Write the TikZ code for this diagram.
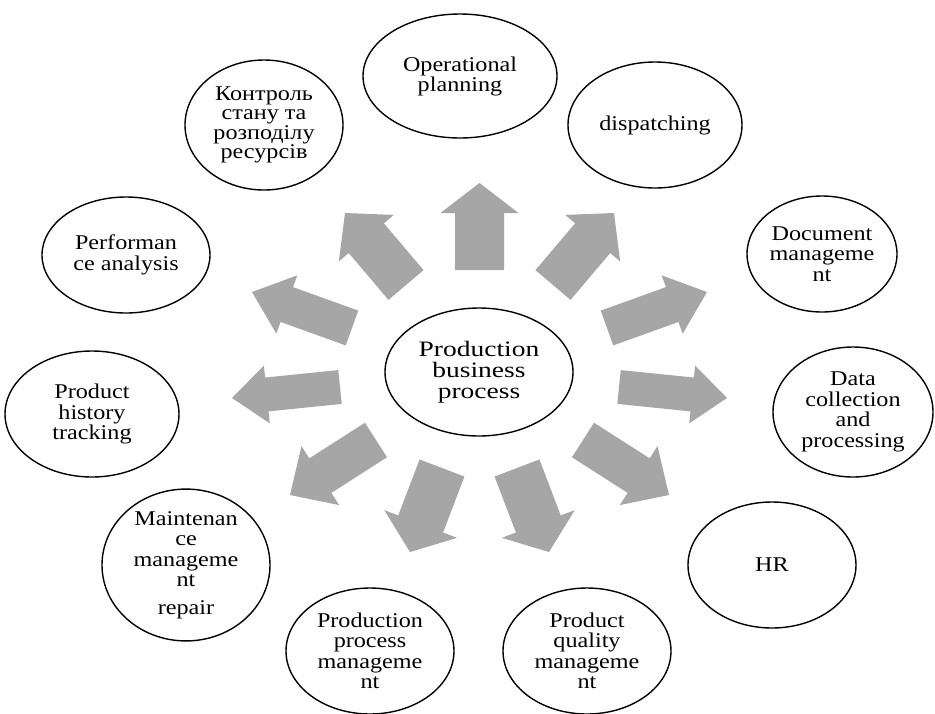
\documentclass[tikz,border=0pt]{standalone}
\usepackage{fontspec}
\setmainfont{Liberation Serif}[FakeStretch=1.15]
\newfontfamily\centerfont{Liberation Serif}[FakeStretch=1.25]
\usetikzlibrary{shapes.geometric,calc}
\definecolor{arrowgray}{RGB}{166,166,166}
\newcommand{\blockarr}[5]{%
  \coordinate (#1b) at ($(#2)!#5!(#1)$);
  \fill[arrowgray] ($(#1)!#3!90:(#2)$) -- ($(#1b)!#3!90:(#2)$) -- ($(#1b)!#4!90:(#2)$)
    -- (#2) -- ($(#1b)!#4!-90:(#2)$) -- ($(#1b)!#3!-90:(#2)$) -- ($(#1)!#3!-90:(#2)$) -- cycle;}
\begin{document}
\begin{tikzpicture}[x=1pt,y=-1pt,
  oval/.style={draw=black, line width=1.4pt, ellipse, inner sep=0pt, align=center,
     font=\fontsize{21pt}{20.5pt}\selectfont}]
\useasboundingbox[fill=white] (0,0) rectangle (935,713);

% arrow coordinates (tail / tip)
\coordinate (a1t) at (479.5,270); \coordinate (a1p) at (479.5,183);
\coordinate (a2t) at (406,285);   \coordinate (a2p) at (345,213);
\coordinate (a3t) at (352,328);   \coordinate (a3p) at (252,292);
\coordinate (a4t) at (340,387);   \coordinate (a4p) at (232,398);
\coordinate (a5t) at (376,440);   \coordinate (a5p) at (290,495);
\coordinate (a6t) at (442,468);   \coordinate (a6p) at (410,552);
\coordinate (a7t) at (517,468);   \coordinate (a7p) at (549,552);
\coordinate (a8t) at (583,440);   \coordinate (a8p) at (669,495);
\coordinate (a9t) at (619,387);   \coordinate (a9p) at (727,398);
\coordinate (a10t) at (607,328);  \coordinate (a10p) at (707,292);
\coordinate (a11t) at (553,285);  \coordinate (a11p) at (614,213);

\blockarr{a1t}{a1p}{24.5pt}{39pt}{30pt}
\blockarr{a2t}{a2p}{23pt}{36pt}{33pt}
\blockarr{a3t}{a3p}{18.5pt}{31pt}{37pt}
\blockarr{a4t}{a4p}{17pt}{29pt}{35pt}
\blockarr{a5t}{a5p}{20.5pt}{35pt}{36pt}
\blockarr{a6t}{a6p}{24pt}{39pt}{30pt}
\blockarr{a7t}{a7p}{24pt}{39pt}{30pt}
\blockarr{a8t}{a8p}{20.5pt}{35pt}{36pt}
\blockarr{a9t}{a9p}{17pt}{29pt}{35pt}
\blockarr{a10t}{a10p}{18.5pt}{31pt}{37pt}
\blockarr{a11t}{a11p}{23pt}{36pt}{33pt}

% ellipses
\node[oval, minimum width=188pt, minimum height=128pt,
  font=\centerfont\fontsize{22pt}{21pt}\selectfont] (center) at (479,372) {Production\\business\\process};
\node[oval, minimum width=194pt, minimum height=124pt,
  font=\fontsize{21pt}{19pt}\selectfont] (oper) at (460,76) {Operational\\planning};
\node[oval, minimum width=158pt, minimum height=130pt,
  font=\fontsize{21pt}{19.5pt}\selectfont] (kontrol) at (264,125) {Контроль\\стану та\\розподілу\\ресурсів};
\node[oval, minimum width=174pt, minimum height=126pt] (disp) at (655,125) {dispatching};
\node[oval, minimum width=168pt, minimum height=116pt] (perf) at (126,255) {Performan\\ce analysis};
\node[oval, minimum width=150pt, minimum height=116pt] (doc) at (822,254) {Document\\manageme\\nt};
\node[oval, minimum width=174pt, minimum height=126pt] (hist) at (92,414) {Product\\history\\tracking};
\node[oval, minimum width=160pt, minimum height=130pt] (data) at (853,412) {Data\\collection\\and\\processing};
\node[oval, minimum width=168pt, minimum height=126pt] (maint) at (186,565) {Maintenan\\ce\\manageme\\nt\\[7pt]repair};
\node[oval, minimum width=168pt, minimum height=126pt] (hr) at (772,565) {HR};
\node[oval, minimum width=168pt, minimum height=126pt] (proc) at (370,651) {Production\\process\\manageme\\nt};
\node[oval, minimum width=168pt, minimum height=126pt] (qual) at (587,651) {Product\\quality\\manageme\\nt};
\end{tikzpicture}
\end{document}
